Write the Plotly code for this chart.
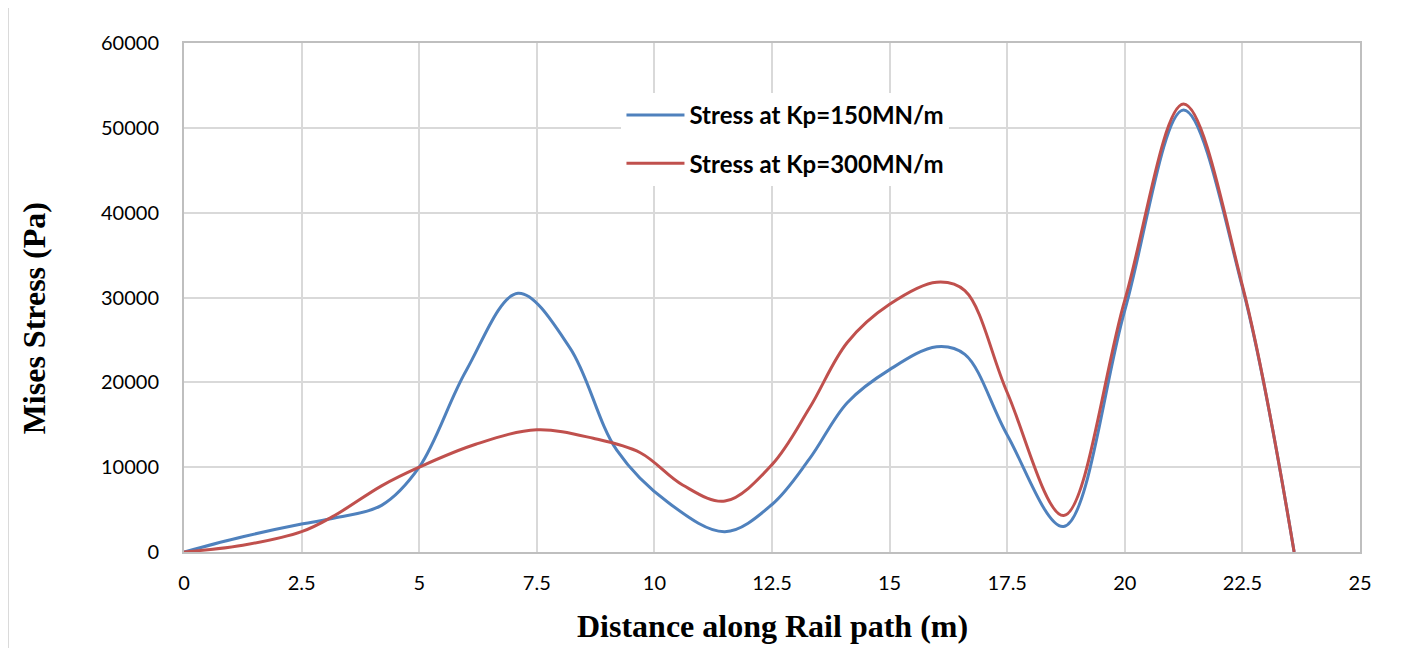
"""Mises stress along rail path for two foundation stiffness values."""

import plotly.graph_objects as go

# distance along rail path (m) and Mises stress (Pa), Kp = 150 MN/m
distance_kp150 = [0, 1.25, 2.5, 3.2, 4.2, 5.0, 6.0, 7.1, 8.2, 9.2, 10.3, 11.5, 12.5, 13.3, 14.1, 15.0, 16.0, 16.6, 17.5, 18.7, 20.0, 21.25, 22.5, 23.6]
stress_kp150 = [0, 1800, 3300, 4000, 5500, 10000, 21400, 30500, 24100, 12000, 5800, 2400, 5600, 11000, 17600, 21500, 24200, 23300, 13800, 3000, 28500, 52100, 31200, 0]

# distance along rail path (m) and Mises stress (Pa), Kp = 300 MN/m
distance_kp300 = [0, 1.25, 2.5, 3.2, 4.2, 5.0, 6.2, 7.5, 8.7, 9.7, 10.6, 11.5, 12.5, 13.3, 14.1, 15.0, 16.0, 16.6, 17.5, 18.7, 20.0, 21.25, 22.5, 23.6]
stress_kp300 = [0, 800, 2400, 4300, 7800, 10000, 12700, 14400, 13400, 11700, 7900, 6000, 10300, 17000, 24700, 29200, 31800, 30800, 18800, 4300, 29700, 52800, 31400, 0]

x_ticks = [0, 2.5, 5, 7.5, 10, 12.5, 15, 17.5, 20, 22.5, 25]
y_ticks = [0, 10000, 20000, 30000, 40000, 50000, 60000]

BLUE = "#4f81bd"
RED = "#c0504d"
GRID = "#d9d9d9"
TICK_FONT = dict(family="Lato, Open Sans, sans-serif", size=20, color="#000000")
TITLE_FONT = dict(family="Liberation Serif, Times New Roman, serif", size=32, color="#000000", weight="bold")

fig = go.Figure()
fig.add_trace(go.Scatter(
    x=distance_kp150, y=stress_kp150, mode="lines", name="Stress at Kp=150MN/m",
    line=dict(color=BLUE, width=3, shape="spline", smoothing=1.0), legendgroup="a",
))
fig.add_trace(go.Scatter(
    x=distance_kp300, y=stress_kp300, mode="lines", name="Stress at Kp=300MN/m",
    line=dict(color=RED, width=3, shape="spline", smoothing=1.0), legendgroup="b",
))

axis_common = dict(
    showgrid=True, gridcolor=GRID, gridwidth=1.5,
    showline=True, linecolor="#bfbfbf", linewidth=2, mirror=True,
    zeroline=False, ticks="outside", tickcolor="rgba(0,0,0,0)",
    tickfont=TICK_FONT,
)

fig.update_xaxes(range=[0, 25], tickvals=x_ticks, ticktext=[f"{t:g}" for t in x_ticks], ticklen=12, **axis_common)
fig.update_yaxes(range=[0, 60000], tickvals=y_ticks, ticktext=[str(t) for t in y_ticks], ticklen=19, **axis_common)

fig.update_layout(
    width=1406, height=648,
    margin=dict(l=176, r=54, t=35, b=104),
    paper_bgcolor="white", plot_bgcolor="white",
    showlegend=True,
    legend=dict(
        x=0.372, y=0.902, xanchor="left", yanchor="top",
        bgcolor="white", borderwidth=0,
        font=dict(family="Lato, Open Sans, sans-serif", size=24, color="#000000", weight="bold"),
        itemwidth=58, traceorder="grouped", tracegroupgap=14,
    ),
    annotations=[
        dict(text="Mises Stress (Pa)", xref="paper", yref="paper", x=-0.128, y=0.46,
             xanchor="center", yanchor="middle", textangle=-90, showarrow=False, font=TITLE_FONT),
        dict(text="Distance along Rail path (m)", xref="paper", yref="paper", x=0.5, y=-0.145,
             xanchor="center", yanchor="middle", showarrow=False, font=TITLE_FONT),
    ],
    shapes=[
        dict(type="rect", xref="paper", yref="paper", x0=-0.1497, x1=1.04, y0=-0.2, y1=1.071,
             line=dict(color=GRID, width=2), layer="below"),
    ],
)

fig.write_html("out.html")
